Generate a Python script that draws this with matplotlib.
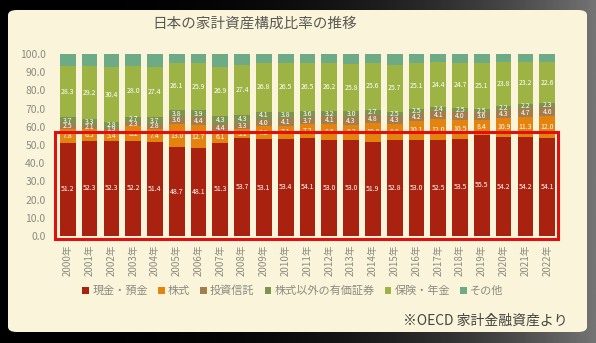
import matplotlib
matplotlib.use("Agg")
import matplotlib.pyplot as plt
import numpy as np
from matplotlib.patches import FancyBboxPatch, Rectangle, Patch

plt.rcParams['font.family'] = ['Noto Sans CJK JP', 'DejaVu Sans']

years = [f"{y}年" for y in range(2000, 2023)]
cash = [51.2, 52.3, 52.3, 52.2, 51.4, 48.7, 48.1, 51.3, 53.7, 53.1, 53.4, 54.1,
        53.0, 53.0, 51.9, 52.8, 53.0, 52.5, 53.5, 55.5, 54.2, 54.2, 54.1]
stocks = [7.8, 6.5, 5.4, 8.2, 7.4, 13.0, 12.7, 6.1, 5.1, 7.2, 7.1, 7.2,
          8.6, 8.2, 10.0, 8.8, 10.1, 12.0, 10.5, 8.4, 10.9, 11.3, 12.0]
funds = [2.5, 2.1, 1.9, 2.3, 2.8, 3.6, 4.4, 4.4, 3.3, 4.0, 4.1, 3.7,
         4.1, 4.3, 4.8, 4.3, 4.2, 4.1, 4.0, 3.6, 4.3, 4.7, 4.6]
bonds = [3.7, 3.3, 2.8, 2.7, 3.7, 3.8, 3.9, 4.3, 4.3, 4.1, 3.8, 3.6,
         3.2, 3.0, 2.7, 2.5, 2.5, 2.4, 2.5, 2.5, 2.2, 2.2, 2.3]
insurance = [28.3, 29.2, 30.4, 28.0, 27.4, 26.1, 25.9, 26.9, 27.4, 26.8, 26.5, 26.5,
             26.2, 25.8, 25.6, 25.7, 25.1, 24.4, 24.7, 25.1, 23.8, 23.2, 22.6]
other = [6.5, 6.6, 7.2, 6.6, 7.3, 4.8, 5.0, 7.0, 6.2, 4.8, 5.1, 4.9,
         4.9, 5.7, 5.0, 5.9, 5.1, 4.6, 4.8, 4.9, 4.6, 4.4, 4.4]

series_names = ["現金・預金", "株式", "投資信託", "株式以外の有価証券", "保険・年金", "その他"]
series = [cash, stocks, funds, bonds, insurance, other]
colors = ["#A8220F", "#E5830F", "#A27E4E", "#7E9350", "#9DB444", "#6DAA86"]
labeled = [True, True, True, True, True, False]

W, H = 596, 343
fig = plt.figure(figsize=(W / 100, H / 100), dpi=100)

# dark backdrop with gradient
bg = fig.add_axes([0, 0, 1, 1], zorder=-10)
grad = np.linspace(0, 1, 256)
g = np.outer(np.ones(64), grad)
bg.imshow(g ** 3, cmap="gray", vmin=0, vmax=2.2, aspect="auto", extent=[0, 1, 0, 1])
bg.set_xlim(0, 1); bg.set_ylim(0, 1)
bg.axis("off")
panel = FancyBboxPatch((8 / W, 1 - 332 / H), (587 - 8) / W, (332 - 10) / H,
                       boxstyle="round,pad=0,rounding_size=0.015",
                       transform=bg.transAxes, facecolor="#FAF5DA", edgecolor="none")
bg.add_patch(panel)

ax = fig.add_axes([58 / W, 1 - 236 / H, (557 - 58) / W, (236 - 54) / H])
ax.set_facecolor("none")
x = np.arange(len(years))
bottom = np.zeros(len(years))
for name, vals, col, lab in zip(series_names, series, colors, labeled):
    vals = np.array(vals)
    ax.bar(x, vals, bottom=bottom, width=0.72, color=col, label=name, zorder=2)
    if lab:
        for xi, b, v in zip(x, bottom, vals):
            ax.text(xi, b + v / 2, f"{v:.1f}", ha="center", va="center",
                    fontsize=5.0, color="white", zorder=3)
    bottom = bottom + vals

ax.set_xlim(-0.45, len(years) - 0.55)
ax.set_ylim(0, 100)
ax.set_yticks(np.arange(0, 101, 10))
ax.set_yticklabels([f"{v:.1f}" for v in np.arange(0, 101, 10)], fontsize=7.5, color="#8A8A80")
ax.set_xticks(x)
ax.set_xticklabels(years, rotation=90, fontsize=7, color="#8A8A80")
ax.tick_params(length=0, axis="y", pad=9)
ax.tick_params(length=0, axis="x", pad=6)
for s in ax.spines.values():
    s.set_visible(False)

# red highlight rectangle
rect = Rectangle((-0.58, -1.5), len(years) + 0.08, 58.6, fill=False,
                 edgecolor="#E0100F", linewidth=2.2, clip_on=False, zorder=5)
ax.add_patch(rect)

fig.text(255 / W, 1 - 24 / H, "日本の家計資産構成比率の推移", ha="center", va="center",
         fontsize=10.5, color="#5A5A55")

handles = [Patch(facecolor=c, edgecolor="none") for c in colors]
fig.legend(handles, series_names, loc="center", bbox_to_anchor=(293 / W, 1 - 291 / H),
           ncol=6, frameon=False, fontsize=8, handlelength=0.6, handleheight=0.6,
           handletextpad=0.3, columnspacing=0.9, labelcolor="#8A8A80")

fig.text(568 / W, 1 - 321 / H, "※OECD 家計金融資産より", ha="right", va="center",
         fontsize=10, color="#444440")

fig.savefig("out.png", dpi=100)
